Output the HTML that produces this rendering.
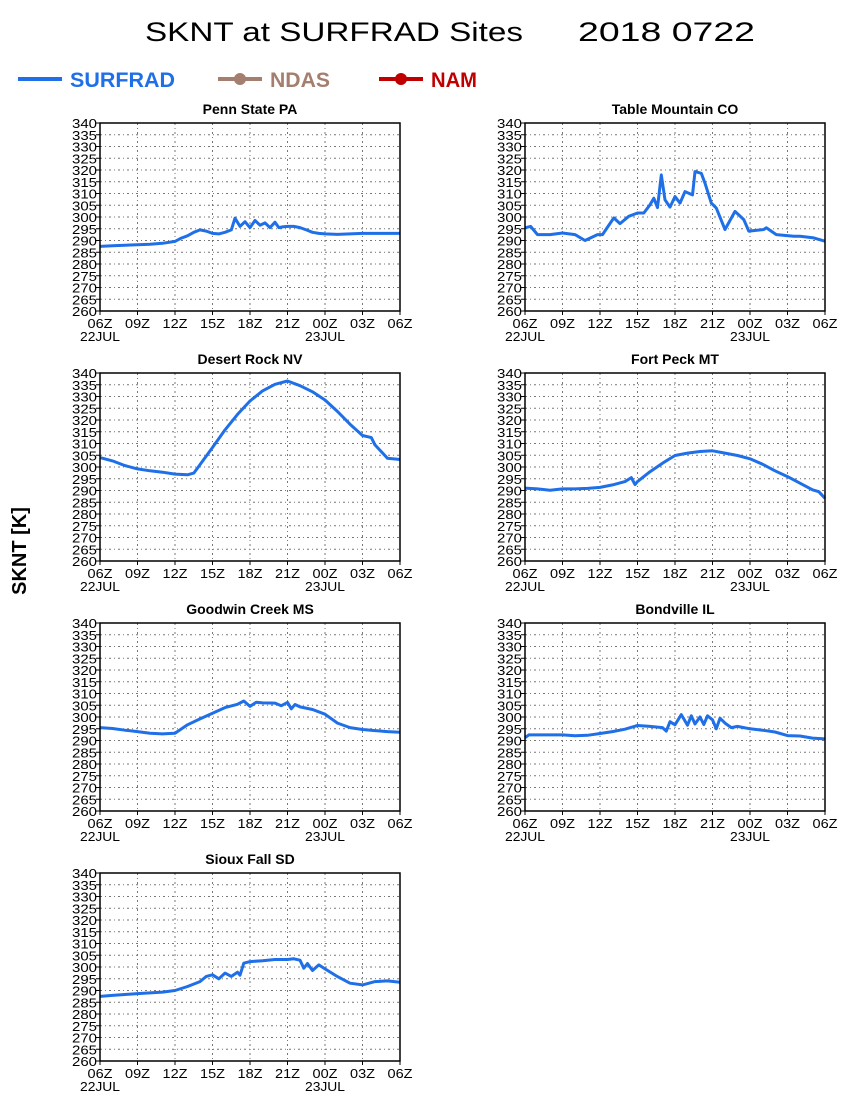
<!DOCTYPE html>
<html><head><meta charset="utf-8"><style>
html,body{margin:0;padding:0;background:#fff;}
svg{display:block;font-family:"Liberation Sans",sans-serif;}
</style></head><body>
<svg id="chart" width="850" height="1100" viewBox="0 0 850 1100" xmlns="http://www.w3.org/2000/svg">
<text x="145" y="41" font-size="27" textLength="378" lengthAdjust="spacingAndGlyphs" fill="#000">SKNT at SURFRAD Sites</text>
<text x="578" y="41" font-size="27" textLength="177" lengthAdjust="spacingAndGlyphs" fill="#000">2018 0722</text>
<g>
 <g>
  <line x1="18" y1="79" x2="62" y2="79" stroke="#1f6fe8" stroke-width="4"/>
  <text x="70" y="87" font-size="21" font-weight="bold" fill="#1f6fe8" textLength="105" lengthAdjust="spacingAndGlyphs">SURFRAD</text>
 </g>
 <g>
  <line x1="218" y1="79" x2="262" y2="79" stroke="#a47e6e" stroke-width="4"/>
  <circle cx="240" cy="79" r="6" fill="#a47e6e"/>
  <text x="270" y="87" font-size="21" font-weight="bold" fill="#a47e6e" textLength="60" lengthAdjust="spacingAndGlyphs">NDAS</text>
 </g>
 <g>
  <line x1="379" y1="79" x2="423" y2="79" stroke="#c00000" stroke-width="4"/>
  <circle cx="401" cy="79" r="6" fill="#c00000"/>
  <text x="431" y="87" font-size="21" font-weight="bold" fill="#c00000" textLength="46" lengthAdjust="spacingAndGlyphs">NAM</text>
 </g>
</g>
<text transform="translate(26,551) rotate(-90)" text-anchor="middle" font-size="20" font-weight="bold" fill="#000">SKNT [K]</text>
<g id="panels"></g>
</svg>
<script>
const yTicks = [260,265,270,275,280,285,290,295,300,305,310,315,320,325,330,335,340];
const xTickLabels = ["06Z","09Z","12Z","15Z","18Z","21Z","00Z","03Z","06Z"];
const xTickHours = [0,3,6,9,12,15,18,21,24];
const dateLabels = ["22JUL","23JUL"];
const dateHours = [0,18];
const siteNames = ["Penn State PA","Table Mountain CO","Desert Rock NV","Fort Peck MT","Goodwin Creek MS","Bondville IL","Sioux Fall SD"];

const pennHours = [0,1,2,3,4,5,6,6.5,7,7.5,8,8.5,9,9.5,10,10.5,10.8,11.2,11.6,12,12.4,12.8,13.2,13.6,14,14.3,14.6,15,15.5,16,16.5,17,17.5,18,19,20,21,22,23,24];
const pennVals  = [287.5,287.8,288,288.2,288.4,288.8,289.6,291,292,293.5,294.5,294,293,292.8,293.5,294.5,299.5,296,298,295.5,298.5,296.5,297.5,295.5,297.8,295.5,295.8,296,296,295.5,294.5,293.5,293,292.8,292.6,292.8,293,293,293,293];

const tableHours = [0,0.45,1,2,3,4,4.8,5.8,6.2,7.1,7.6,8.3,9,9.5,10,10.3,10.6,10.9,11.2,11.6,12,12.4,12.8,13.4,13.6,14.1,14.4,14.9,15.3,16,16.8,17.5,17.9,19.1,19.3,20.1,21.5,22,23.1,24];
const tableVals  = [295.4,296,292.5,292.5,293.2,292.5,290,292.5,292.5,299.6,297.2,300.3,301.7,301.7,305.2,308,304,317.9,307.3,304.2,308.7,305.9,310.8,309.4,319.3,318.6,314.4,305.9,303.8,294.7,302.4,298.9,294,294.7,295.4,292.5,291.8,291.8,291.1,289.7];

const desertHours = [0,1,2,3,4,5,6,7,7.5,8,9,10,11,12,13,14,15,16,17,18,19,20,21,21.7,22,23,24];
const desertVals  = [304,302.6,300.6,299.2,298.4,297.8,297,296.7,297.4,301,308.3,315.8,322.4,328.1,332.4,335.2,336.6,334.6,332,328.5,323.6,318.2,313.4,312.5,309.4,303.7,303.2];

const peckHours = [0,1,2,3,4,5,6,7,8,8.5,8.8,9,10,11,12,13,14,15,16,17,18,19,20,21,22,23,23.5,24];
const peckVals  = [291,290.7,290.1,290.7,290.7,290.9,291.3,292.4,293.8,295.5,292.5,293.8,298,301.6,304.9,305.9,306.6,306.9,305.9,304.9,303.5,301.2,298.4,295.9,293.1,290.3,289.5,286.7];

const goodwinHours = [0,1,2,3,4,5,6,7,8,9,10,11,11.5,12,12.5,13,14,14.5,15,15.3,15.6,16,17,18,19,20,21,22,23,24];
const goodwinVals  = [295.5,295.1,294.4,293.8,293.1,292.8,293.1,296.7,299.2,301.6,304,305.4,306.8,304.5,306.3,306,305.9,304.8,306.2,303.5,305.3,304.3,303.2,301.2,297.4,295.5,294.7,294.2,293.8,293.5];

const bondHours = [0,0.3,1,2,3,4,5,6,7,8,9,10,11,11.3,11.6,12,12.5,13,13.3,13.6,14,14.3,14.6,15,15.3,15.6,16,16.5,17,18,19,20,21,22,23,24];
const bondVals  = [291.2,292.4,292.4,292.4,292.4,292,292.2,293,293.8,294.8,296.4,296,295.5,294,298,296.7,301,296.5,300.5,297,300,296.8,300.5,298.8,295,299.5,297.4,295.5,296,295,294.4,293.6,292.1,291.9,291,290.7];

const siouxHours = [0,1,2,3,4,5,6,7,8,8.5,9,9.5,10,10.5,11,11.2,11.5,12,13,14,15,15.5,16,16.3,16.6,17,17.5,18,19,20,21,22,23,24];
const siouxVals  = [287.5,287.9,288.3,288.7,289,289.3,290,291.7,293.8,296,296.7,295,297.4,296,297.8,296.5,301.6,302.3,302.7,303.2,303.2,303.5,302.9,299.5,301.5,298.5,300.9,299.2,295.9,293.1,292.4,293.8,294.1,293.5];

const seriesHours = [pennHours,tableHours,desertHours,peckHours,goodwinHours,bondHours,siouxHours];
const seriesVals = [pennVals,tableVals,desertVals,peckVals,goodwinVals,bondVals,siouxVals];

const NS = "http://www.w3.org/2000/svg";
const panelsG = document.getElementById("panels");
const PW = 300, PH = 188;
const yMin = 260, yMax = 340, hMax = 24;

function mk(tag, attrs, parent){
  const e = document.createElementNS(NS, tag);
  for (const k in attrs) e.setAttribute(k, attrs[k]);
  parent.appendChild(e);
  return e;
}

siteNames.forEach((name, i) => {
  const col = i % 2, row = Math.floor(i / 2);
  const x0 = col === 0 ? 100 : 525;
  const y0 = 123 + row * 250;
  const xs = h => x0 + h / hMax * PW;
  const ys = v => y0 + PH - (v - yMin) / (yMax - yMin) * PH;
  const slug = name.toLowerCase().replace(/\s+/g, '-');

  const g = mk("g", {}, panelsG);
  
  

  const t = mk("text", {x: x0 + PW/2, y: y0 - 9, "text-anchor": "middle", "font-size": "14", "font-weight": "bold", fill: "#000"}, g);
  
  
  t.textContent = name;

  const grid = mk("g", {stroke: "#777", "stroke-width": "1", "stroke-dasharray": "2,3,1,3"}, g);
  
  
  yTicks.forEach(v => {
    if (v === yMin || v === yMax) return;
    mk("line", {x1: x0, x2: x0 + PW, y1: ys(v), y2: ys(v)}, grid);
  });
  xTickHours.forEach(h => {
    if (h === 0 || h === hMax) return;
    mk("line", {x1: xs(h), x2: xs(h), y1: y0, y2: y0 + PH}, grid);
  });

  const ylab = mk("g", {"font-size": "13", fill: "#000", "text-anchor": "end"}, g);
  
  
  yTicks.forEach(v => {
    mk("line", {x1: x0 - 4, x2: x0, y1: ys(v), y2: ys(v), stroke: "#000"}, g);
    const tt = mk("text", {x: x0 - 3, y: ys(v) + 5, textLength: "25", lengthAdjust: "spacingAndGlyphs"}, ylab);
    tt.textContent = v;
  });

  const xlab = mk("g", {"font-size": "13", fill: "#000", "text-anchor": "middle"}, g);
  
  
  xTickHours.forEach((h, k) => {
    mk("line", {x1: xs(h), x2: xs(h), y1: y0 + PH, y2: y0 + PH + 4, stroke: "#000"}, g);
    const tt = mk("text", {x: xs(h), y: y0 + PH + 17, textLength: "25", lengthAdjust: "spacingAndGlyphs"}, xlab);
    tt.textContent = xTickLabels[k];
  });
  dateHours.forEach((h, k) => {
    const tt = mk("text", {x: xs(h), y: y0 + PH + 30, textLength: "40", lengthAdjust: "spacingAndGlyphs"}, xlab);
    tt.textContent = dateLabels[k];
  });

  const hrs = seriesHours[i], vals = seriesVals[i];
  const d = vals.map((v, k) => (k ? "L" : "M") + xs(hrs[k]).toFixed(1) + "," + ys(v).toFixed(1)).join(" ");
  const p = mk("path", {d: d, fill: "none", stroke: "#1f6fe8", "stroke-width": "3", "stroke-linejoin": "round"}, g);
  
  

  const fr = mk("rect", {x: x0, y: y0, width: PW, height: PH, fill: "none", stroke: "#000", "stroke-width": "1.5"}, g);
  
  
});
</script>
</body></html>
